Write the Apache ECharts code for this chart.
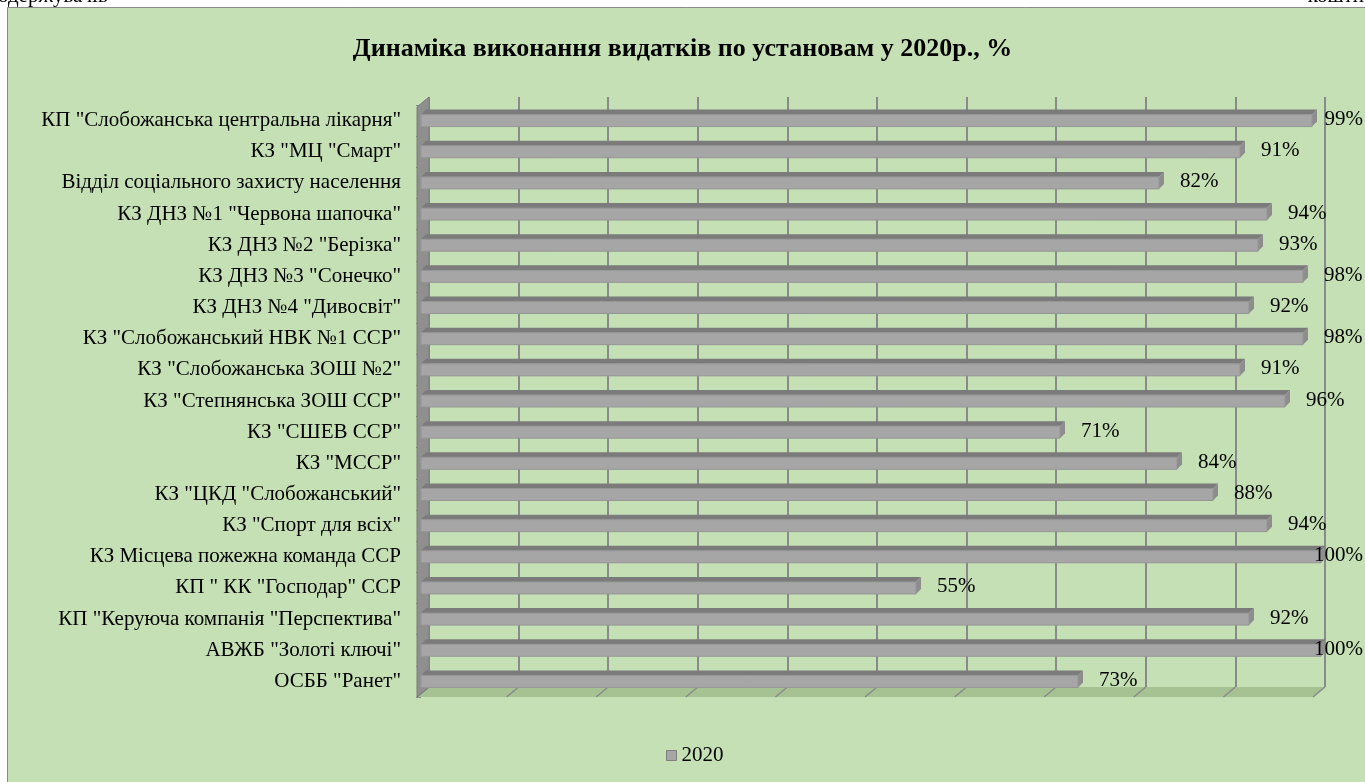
<!DOCTYPE html>
<html>
<head>
<meta charset="utf-8">
<script src="https://cdn.jsdelivr.net/npm/echarts@6/dist/echarts.min.js"></script>
<style>
  html, body { margin: 0; padding: 0; background: #fff; }
  #main { width: 1365px; height: 782px; }
</style>
</head>
<body>
<div id="main"></div>
<script type="text/javascript">
  // categories top to bottom
  var categories = [
    'КП "Слобожанська центральна лікарня"',
    'КЗ "МЦ "Смарт"',
    'Відділ соціального захисту населення',
    'КЗ ДНЗ №1 "Червона шапочка"',
    'КЗ ДНЗ №2 "Берізка"',
    'КЗ ДНЗ №3 "Сонечко"',
    'КЗ ДНЗ №4 "Дивосвіт"',
    'КЗ "Слобожанський НВК №1 ССР"',
    'КЗ "Слобожанська ЗОШ №2"',
    'КЗ "Степнянська ЗОШ ССР"',
    'КЗ "СШЕВ ССР"',
    'КЗ "МССР"',
    'КЗ "ЦКД "Слобожанський"',
    'КЗ "Спорт для всіх"',
    'КЗ Місцева пожежна команда ССР',
    'КП " КК "Господар" ССР',
    'КП "Керуюча компанія "Перспектива"',
    'АВЖБ "Золоті ключі"',
    'ОСББ "Ранет"'
  ];
  var values2020 = [99, 91, 82, 94, 93, 98, 92, 98, 91, 96, 71, 84, 88, 94, 100, 55, 92, 100, 73];
  var xTicks = [0, 10, 20, 30, 40, 50, 60, 70, 80, 90, 100];

  var FONT = '"Liberation Serif", "Times New Roman", serif';
  var DX = 12, DY = 10;      // wall / floor depth
  var BDX = 5, BDY = 5;      // bar depth
  var BAR_H = 12;

  var measure = document.createElement('canvas').getContext('2d');
  measure.font = '21px ' + FONT;

  function renderBar(params, api) {
    var v = api.value(0);
    var c = api.value(1);
    var s = api.coord([0, c]);
    var e = api.coord([v, c]);
    var x0 = s[0], x1 = e[0];
    var y0 = s[1] - BAR_H / 2;
    var txt = v + '%';
    var w = measure.measureText(txt).width;
    var lx = Math.min(x1 + 21, 1363 - w);
    return {
      type: 'group',
      children: [
        { type: 'polygon', shape: { points: [[x0, y0], [x0 + BDX, y0 - BDY], [x1 + BDX, y0 - BDY], [x1, y0]] },
          style: { fill: '#7b7b7b' } },
        { type: 'polygon', shape: { points: [[x1, y0], [x1 + BDX, y0 - BDY], [x1 + BDX, y0 - BDY + BAR_H], [x1, y0 + BAR_H]] },
          style: { fill: '#8d8d8d' } },
        { type: 'rect', shape: { x: x0, y: y0, width: x1 - x0, height: BAR_H },
          style: { fill: '#a6a6a6', stroke: '#969696', lineWidth: 1 } },
        { type: 'text', x: lx, y: s[1] - 1,
          style: { text: txt, font: '21px ' + FONT, fill: '#000', verticalAlign: 'middle', align: 'left' } }
      ]
    };
  }

  var chart = echarts.init(document.getElementById('main'));
  var option = {
    backgroundColor: '#c5e0b4',
    animation: false,
    title: {
      text: 'Динаміка виконання видатків по установам у 2020р., %',
      left: 'center',
      top: 31,
      textStyle: { fontFamily: FONT, fontSize: 26, fontWeight: 'bold', color: '#000' }
    },
    legend: {
      data: ['2020'],
      left: 661,
      top: 740,
      icon: 'rect',
      itemWidth: 10,
      itemHeight: 10,
      itemGap: 6,
      itemStyle: { color: '#a6a6a6', borderColor: '#7f7f7f', borderWidth: 1 },
      textStyle: { fontFamily: FONT, fontSize: 21, color: '#000', padding: [0, 0, 0, 0] }
    },
    grid: [
      { left: 421, right: 44, top: 105, bottom: 85 },
      { left: 429, right: 40, top: 97, bottom: 95 }
    ],
    xAxis: [
      { gridIndex: 0, type: 'value', min: 0, max: 100, interval: 10, show: false },
      { gridIndex: 1, type: 'value', min: 0, max: 100, interval: 10,
        axisLine: { show: false }, axisTick: { show: false }, axisLabel: { show: false },
        splitLine: { show: true, lineStyle: { color: '#8a8a8a', width: 2 } } }
    ],
    yAxis: [
      { gridIndex: 0, type: 'category', data: categories, inverse: true, offset: 4,
        axisLine: { show: false },
        axisTick: { show: true, length: 5, lineStyle: { color: '#8a8a8a', width: 1 } },
        axisLabel: { margin: 16, fontFamily: FONT, fontSize: 21, color: '#000' },
        splitLine: { show: false } },
      { gridIndex: 1, type: 'value', min: 0, max: 1, show: false }
    ],
    series: [
      {
        name: '2020',
        type: 'custom',
        xAxisIndex: 0,
        yAxisIndex: 0,
        itemStyle: { color: '#a6a6a6' },
        renderItem: renderBar,
        data: values2020.map(function (v, i) { return [v, i]; }),
        z: 5
      }
    ]
  };
  chart.setOption(option);

  // 3D wall / floor decorations built from the back grid's scale
  var bl = chart.convertToPixel({ xAxisIndex: 1 }, 0);
  var br = chart.convertToPixel({ xAxisIndex: 1 }, 100);
  var bt = chart.convertToPixel({ yAxisIndex: 1 }, 1);
  var bb = chart.convertToPixel({ yAxisIndex: 1 }, 0);
  var deco = [];
  deco.push({ type: 'polygon', z: 1,
    shape: { points: [[bl, bb], [br, bb], [br - DX, bb + DY], [bl - DX, bb + DY]] },
    style: { fill: '#a6c293' } });
  xTicks.forEach(function (t) {
    var x = chart.convertToPixel({ xAxisIndex: 1 }, t);
    deco.push({ type: 'line', z: 1, shape: { x1: x, y1: bb, x2: x - DX, y2: bb + DY },
      style: { stroke: '#8a8a8a', lineWidth: 1.5 } });
  });
  deco.push({ type: 'polygon', z: 1,
    shape: { points: [[bl - DX, bt + DY], [bl, bt], [bl, bb], [bl - DX, bb + DY]] },
    style: { fill: '#8f8f8f', stroke: '#7a7a7a', lineWidth: 1 } });
  // page strip above the chart box
  deco.push({ type: 'rect', z: 10, shape: { x: 0, y: 0, width: 1365, height: 7 }, style: { fill: '#fff' } });
  deco.push({ type: 'rect', z: 10, shape: { x: 0, y: 0, width: 7, height: 782 }, style: { fill: '#fff' } });
  deco.push({ type: 'polyline', z: 11, shape: { points: [[7.5, 782], [7.5, 7.5], [1365, 7.5]] },
    style: { stroke: '#8a8a8a', lineWidth: 1, fill: null } });
  deco.push({ type: 'text', z: 12, x: -2, y: 7,
    style: { text: 'одержувачів', font: '21px ' + FONT, fill: '#000', verticalAlign: 'bottom' } });
  deco.push({ type: 'text', z: 12, x: 1364, y: 7,
    style: { text: 'кошти', font: '21px ' + FONT, fill: '#000', verticalAlign: 'bottom', align: 'right' } });
  chart.setOption({ graphic: deco });
</script>
</body>
</html>
